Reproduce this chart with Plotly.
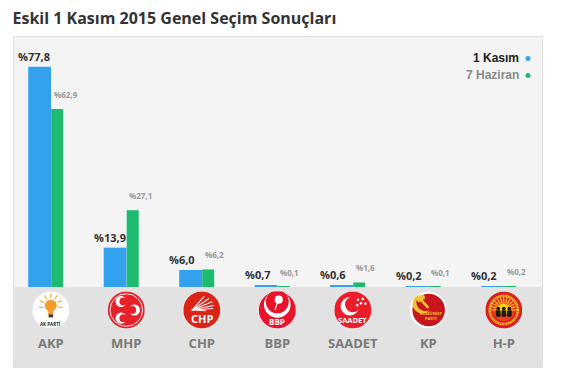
import base64
import plotly.graph_objects as go

title = "Eskil 1 Kasım 2015 Genel Seçim Sonuçları"
parties = ["AKP", "MHP", "CHP", "BBP", "SAADET", "KP", "H-P"]
kasim = [77.8, 13.9, 6.0, 0.7, 0.6, 0.2, 0.2]
haziran = [62.9, 27.1, 6.2, 0.1, 1.6, 0.1, 0.2]
series_names = ["1 Kasım", "7 Haziran"]

W, H = 564, 372
BLUE, GREEN = "#34a1ee", "#1dbb70"
STEP = 75.5


def px(x):
    return x / W


def py(y):
    return 1 - y / H


def fmt(v):
    return "%" + f"{v:.1f}".replace(".", ",")


def svg(body):
    s = f'<svg xmlns="http://www.w3.org/2000/svg" viewBox="0 0 100 100" width="100" height="100">{body}</svg>'
    return "data:image/svg+xml;base64," + base64.b64encode(s.encode()).decode()


def crescent(cx, cy, r, dx, dy, ri, bg):
    return (f'<circle cx="{cx}" cy="{cy}" r="{r}" fill="#fff"/>'
            f'<circle cx="{cx+dx}" cy="{cy+dy}" r="{ri}" fill="{bg}"/>')


rays_akp = "".join(
    f'<rect x="48.5" y="5" width="3" height="13" fill="#f5a623" transform="rotate({a} 50 38)"/>'
    for a in (-100, -65, -32, 0, 32, 65, 100))
rays_chp = "".join(
    f'<path d="M24 50 L{x} {y}" stroke="#fff" stroke-width="{w}" stroke-linecap="round"/>'
    for x, y, w in [(56, 14, 3), (68, 20, 3), (78, 28, 3), (82, 38, 3), (80, 46, 2.5), (60, 52, 2.5)])
stars = "".join(f'<circle cx="{x}" cy="{y}" r="3.4" fill="#fff"/>'
                for x, y in [(64, 22), (77, 20), (72, 32), (84, 33), (62, 37)])
sun = "".join(
    f'<rect x="48.8" y="14" width="2.4" height="20" fill="#ffd21f" transform="rotate({a} 50 50)"/>'
    for a in range(-90, 91, 15))
figures = "".join(
    f'<circle cx="{x}" cy="46" r="5" fill="#1d1a14"/><rect x="{x-6.5}" y="51" width="13" height="17" rx="3" fill="#1d1a14"/>'
    for x in (35, 50, 65))

logos = [
    '<circle cx="50" cy="50" r="50" fill="#fff"/>' + rays_akp +
    '<circle cx="50" cy="38" r="16" fill="#f39c2d"/><rect x="43" y="49" width="14" height="14" fill="#f39c2d"/>'
    '<rect x="44" y="62" width="12" height="8" fill="#3a3a3a"/>',
    '<circle cx="50" cy="50" r="50" fill="#e8202a"/><circle cx="50" cy="50" r="44" fill="none" stroke="#fff" stroke-width="2.5"/>'
    + crescent(36, 27, 15, 6, 0, 10.5, "#e8202a") + crescent(36, 72, 15, 6, 0, 10.5, "#e8202a")
    + crescent(72, 50, 15, -6, 0, 10.5, "#e8202a"),
    '<circle cx="50" cy="50" r="50" fill="#dc2318"/>' + rays_chp,
    '<circle cx="50" cy="50" r="50" fill="#e8132a"/>' + crescent(50, 35, 36, 0, -7, 31, "#e8132a")
    + '<circle cx="54" cy="22" r="11" fill="#fff"/><path d="M50 30 L44 50" stroke="#fff" stroke-width="3"/>',
    '<circle cx="50" cy="50" r="50" fill="#ec1c2a"/>' + crescent(42, 40, 25, 8, -5, 21, "#ec1c2a") + stars,
    '<circle cx="50" cy="50" r="50" fill="#fff"/><circle cx="51" cy="50" r="44" fill="#c8161c"/>'
    '<path d="M30 8 A26 26 0 1 0 54 50 A24 24 0 0 1 30 8 Z" fill="#f2c230"/>'
    '<path d="M14 18 L38 8 L42 18 L24 30 Z" fill="#f2c230"/>'
    '<path d="M26 18 L50 44" stroke="#f2c230" stroke-width="7"/>',
    '<circle cx="50" cy="50" r="50" fill="#d92020"/>'
    '<circle cx="50" cy="50" r="38" fill="none" stroke="#ffd21f" stroke-width="7" stroke-dasharray="3 1.5"/>'
    '<circle cx="50" cy="50" r="30" fill="#e8401f"/>'
    + sun + '<circle cx="50" cy="48" r="15" fill="#ffd21f"/>' + figures,
]

fig = go.Figure()
fig.add_bar(name=series_names[0], x=parties, y=kasim, width=22.8 / STEP, offset=-22.6 / STEP,
            marker=dict(color=BLUE, line_width=0))
fig.add_bar(name=series_names[1], x=parties, y=haziran, width=12 / STEP, offset=0.4 / STEP,
            marker=dict(color=GREEN, line_width=0))

annotations = []
for p, a, b in zip(parties, kasim, haziran):
    annotations.append(dict(x=p, y=a, text=fmt(a), xanchor="left", yanchor="bottom", xshift=-34.5, yshift=1,
                            showarrow=False, font=dict(family="Open Sans", size=11, color="#333333", weight="bold")))
    annotations.append(dict(x=p, y=b, text=fmt(b), xanchor="left", yanchor="bottom", xshift=1, yshift=7,
                            showarrow=False, font=dict(family="Open Sans", size=8, color="#999999", weight="bold")))

# Text carried inside the party emblems
for p, txt, dy, size, col in [("AKP", "AK PARTİ", 323.5, 4.5, "#222222"), ("CHP", "CHP", 318.5, 11, "#ffffff"),
                              ("BBP", "BBP", 321, 8, "#ffffff"), ("SAADET", "SAADET", 319.5, 7.5, "#ffffff"),
                              ("KP", "KOMÜNİST<br>PARTİ", 316, 4, "#f2c230")]:
    annotations.append(dict(xref="x", x=p, yref="paper", y=py(dy), text=txt, showarrow=False, xanchor="center",
                            yanchor="middle", font=dict(family="Open Sans", size=size, color=col, weight="bold"),
                            borderpad=0, borderwidth=0, align="center", xshift=(3 if p == "KP" else 0)))

annotations.append(dict(xref="paper", yref="paper", x=px(521), y=py(58), text=series_names[0], showarrow=False,
                        xanchor="right", yanchor="middle",
                        font=dict(family="Liberation Sans", size=12, color="#222222", weight="bold")))
annotations.append(dict(xref="paper", yref="paper", x=px(521), y=py(75), text=series_names[1], showarrow=False,
                        xanchor="right", yanchor="middle",
                        font=dict(family="Liberation Sans", size=12, color="#8a8a8a", weight="bold")))


def paper_rect(x0, y0, x1, y1, fill, line=None):
    return dict(type="rect", xref="paper", yref="paper", x0=px(x0), x1=px(x1), y0=py(y0), y1=py(y1), layer="below",
                fillcolor=fill, line=dict(color=line or fill, width=1 if line else 0))


def dot(cx, cy, color):
    return dict(type="circle", xref="paper", yref="paper", x0=px(cx - 2.5), x1=px(cx + 2.5), y0=py(cy + 2.5),
                y1=py(cy - 2.5), fillcolor=color, line_width=0)


images = []
for i, src in enumerate(logos):
    cx = 50.8 + STEP * i
    images.append(dict(source=svg(src), xref="paper", yref="paper", x=px(cx - 18.5), y=py(291.5), sizex=37 / W,
                       sizey=37 / H, xanchor="left", yanchor="top", sizing="stretch", layer="above"))

fig.update_layout(
    width=W, height=H, autosize=False, margin=dict(l=0, r=0, t=0, b=0), paper_bgcolor="#ffffff",
    plot_bgcolor="rgba(0,0,0,0)", barmode="overlay", showlegend=False,
    title=dict(text=title, xref="paper", yref="paper", x=px(12.5), y=py(18.5), xanchor="left", yanchor="middle",
               font=dict(family="Open Sans", size=16, color="#333333", weight="bold")),
    xaxis=dict(domain=[px(14), px(542)], range=[(14 - 50.8) / STEP, (542 - 50.8) / STEP], type="category",
               categoryorder="array", categoryarray=parties, showgrid=False, zeroline=False, showline=False,
               ticks="", ticklabelstandoff=47, automargin=False,
               tickfont=dict(family="Open Sans", size=13, color="#7a7a7a", weight="bold")),
    yaxis=dict(domain=[py(287), py(37)], range=[0, 250 / 2.83], showgrid=False, zeroline=False, showline=False,
               showticklabels=False, ticks="", automargin=False),
    annotations=annotations, images=images,
    shapes=[paper_rect(13.5, 36.5, 542.5, 367.5, "#f4f4f4", "#e0e0e0"), paper_rect(14, 287, 542, 367, "#e2e2e2"),
            dot(528, 58.5, BLUE), dot(528, 75.5, GREEN)],
)

fig.write_html("out.html", config=dict(displayModeBar=False), post_script="document.body.style.margin='0';")
